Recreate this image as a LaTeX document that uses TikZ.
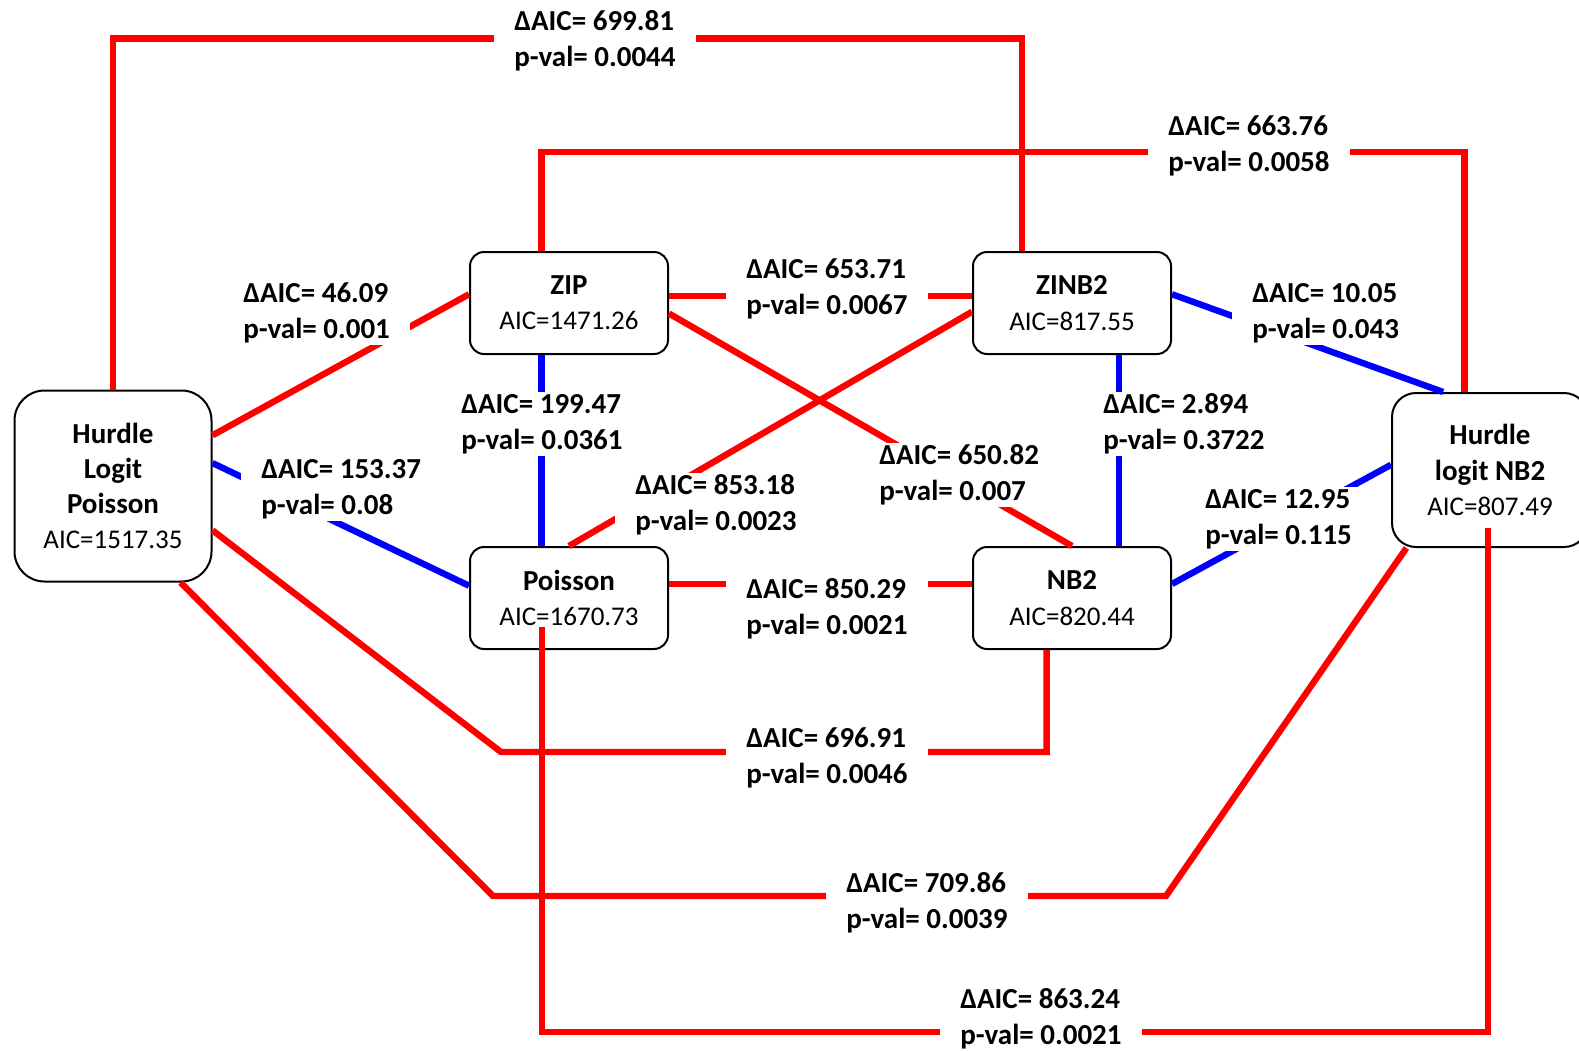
\documentclass[tikz,border=0pt]{standalone}
\usepackage{fontspec}
\setmainfont{Carlito}
\usetikzlibrary{calc}
\definecolor{redlink}{HTML}{FF0000}
\definecolor{bluelink}{HTML}{0000FF}
\newcommand\mname[1]{{\fontsize{14.5}{17.6}\selectfont\bfseries #1}}

\begin{document}
\begin{tikzpicture}[x=0.5pt,y=-0.5pt,
  model/.style={draw=black,line width=1pt,fill=white,align=center,inner sep=2pt,
    font=\fontsize{13.5}{17.6}\selectfont,minimum width=99pt,minimum height=51pt,
    rounded corners=7pt},
  bigmodel/.style={model,minimum width=98.5pt,minimum height=95.5pt,rounded corners=15pt},
  hurdlenb/.style={model,minimum width=98pt,minimum height=77pt,rounded corners=12pt},
  worse/.style={draw=redlink,line width=3.2pt},
  near/.style={draw=bluelink,line width=3.2pt},
  test/.style={fill=white,anchor=west,align=left,inner xsep=10pt,inner ysep=1pt,
    font=\fontsize{14.5}{17.8}\selectfont\bfseries}
]
\useasboundingbox (0,0) rectangle (1579,1050);

\node[bigmodel] (hlp) at (113,486) {\mname{Hurdle}\\\mname{Logit}\\\mname{Poisson}\\AIC=1517.35};
\node[model] (zip) at (569,303) {\mname{ZIP}\\AIC=1471.26};
\node[model] (zinb) at (1072,303) {\mname{ZINB2}\\AIC=817.55};
\node[model] (pois) at (569,598) {\mname{Poisson}\\AIC=1670.73};
\node[model] (nb) at (1072,598) {\mname{NB2}\\AIC=820.44};
\node[hurdlenb] (hnb) at (1490,470) {\mname{Hurdle}\\\mname{logit NB2}\\AIC=807.49};

\coordinate (bendA) at (501,752);
\coordinate (bendB) at (493,896);
\coordinate (bendC) at (1166,896);
\coordinate (bendD) at (1000,1032);

\draw[worse] (hlp.north) -- ++(0,-351) -| (zinb.134);
\draw[worse] (zip.118) -- ++(0,-99) -| (hnb.108);
\draw[worse] (hlp.27) -- (zip.175);
\draw[near] (hlp.13) -- (pois.173);
\draw[near] (zip.242) -- (pois.118);
\draw[worse] (zip.-6) -- (nb.north);
\draw[worse] (zinb.185) -- (pois.north);
\draw[worse] (zip.4) -- (zinb.176);
\draw[near] (zinb.5) -- (hnb.121);
\draw[near] (zinb.-48) -- (nb.48);
\draw[near] (nb.8) -- (hnb.177);
\draw[worse] (pois.8) -- (nb.172);
\draw[worse] (hlp.-24) -- (bendA) -| (nb.244);
\draw[worse] (hlp.-55) -- (bendB) -- (bendC) -- (hnb.223);
\draw[worse] ($(pois)+(-27,29)$) |- (bendD) -| ($(hnb)+(-2,58)$);

\node[test] (t1) at (494,41) {ΔAIC= 699.81\\p-val= 0.0044};
\node[test] (t2) at (1148,146) {ΔAIC= 663.76\\p-val= 0.0058};
\node[test] (t3) at (223,313) {ΔAIC= 46.09\\p-val= 0.001};
\node[test] (t4) at (241,489) {ΔAIC= 153.37\\p-val= 0.08};
\node[test] (t5) at (441,424) {ΔAIC= 199.47\\p-val= 0.0361};
\node[test] (t6) at (859,475) {ΔAIC= 650.82\\p-val= 0.007};
\node[test] (t7) at (615,505) {ΔAIC= 853.18\\p-val= 0.0023};
\node[test] (t8) at (726,289) {ΔAIC= 653.71\\p-val= 0.0067};
\node[test] (t9) at (1232,313) {ΔAIC= 10.05\\p-val= 0.043};
\node[test] (t10) at (1083,424) {ΔAIC= 2.894\\p-val= 0.3722};
\node[test] (t11) at (1185,519) {ΔAIC= 12.95\\p-val= 0.115};
\node[test] (t12) at (726,609) {ΔAIC= 850.29\\p-val= 0.0021};
\node[test] (t13) at (726,758) {ΔAIC= 696.91\\p-val= 0.0046};
\node[test] (t14) at (826,903) {ΔAIC= 709.86\\p-val= 0.0039};
\node[test] (t15) at (940,1019) {ΔAIC= 863.24\\p-val= 0.0021};
\end{tikzpicture}
\end{document}
